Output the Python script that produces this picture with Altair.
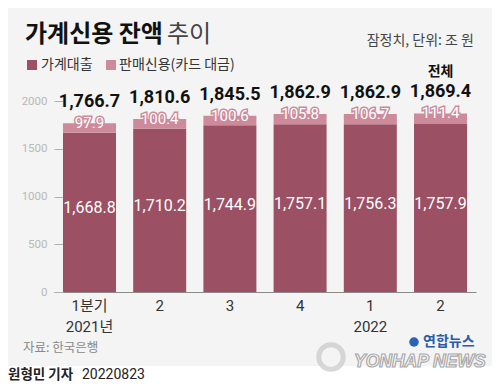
import altair as alt
import pandas as pd

# ---- data ----
categories = ["2021-1", "2021-2", "2021-3", "2021-4", "2022-1", "2022-2"]
quarter_labels = ["1분기", "2", "3", "4", "1", "2"]
year_labels = ["2021년", "", "", "", "2022", ""]
loans = [1668.8, 1710.2, 1744.9, 1757.1, 1756.3, 1757.9]
card = [97.9, 100.4, 100.6, 105.8, 106.7, 111.4]
totals = [1766.7, 1810.6, 1845.5, 1862.9, 1862.9, 1869.4]
y_ticks = [0, 500, 1000, 1500, 2000]

series_names = ["가계대출", "판매신용(카드 대금)"]
title_bold = "가계신용 잔액"
title_light = "추이"
unit_text = "잠정치, 단위: 조 원"
total_text = "전체"
source_text = "자료: 한국은행"
byline_bold = "원형민 기자"
byline_date = "20220823"

df = pd.DataFrame({"cat": categories, "loan": loans, "card": card, "total": totals})

DARK = "#9b5064"
LIGHT = "#cc8a9b"
BG = "#f4f4f4"
KR = "Noto Sans CJK KR"
NUM = "Roboto, 'Noto Sans CJK KR'"

# layout: plot area starts at page (54,101); chart origin at page (8,8)
PLOT_W, PLOT_H = 422, 191
PAD = {"left": 46, "top": 93, "right": 16, "bottom": 91}


def px(x):
    return x - 54


def py(y):
    return y - 101


def js_str(s):
    return "'" + s.replace("'", "\\'") + "'"


label_map = ", ".join(
    js_str(c) + ": [" + ", ".join(js_str(t) for t in ([q, yv] if yv else [q])) + "]"
    for c, q, yv in zip(categories, quarter_labels, year_labels)
)
label_expr = "{" + label_map + "}[datum.value]"

x_enc = alt.X(
    "cat:N",
    sort=categories,
    scale=alt.Scale(paddingInner=0.245, paddingOuter=0.128),
    axis=alt.Axis(
        title=None,
        labelAngle=0,
        ticks=False,
        domainColor="#8a8a8a",
        domainWidth=1,
        labelColor="#333333",
        labelFont=NUM,
        labelFontSize=15,
        labelPadding=6,
        labelLineHeight=21,
        labelExpr=label_expr,
    ),
)

y_scale = alt.Scale(domain=[0, 2000], nice=False)
y_axis = alt.Axis(
    title=None,
    values=y_ticks,
    format="d",
    domain=False,
    grid=False,
    offset=-9,
    tickSize=9,
    tickColor="#b0b0b0",
    labelPadding=7,
    labelColor="#b8b8b8",
    labelFont=NUM,
    labelFontSize=11.5,
)

base = alt.Chart(df)

dark_bars = base.mark_bar(color=DARK).encode(
    x=x_enc, y=alt.Y("loan:Q", scale=y_scale, axis=y_axis)
)
light_bars = base.mark_bar(color=LIGHT).encode(
    x=x_enc, y=alt.Y("loan:Q", scale=y_scale, axis=y_axis), y2="total:Q"
)

total_labels = base.mark_text(
    baseline="alphabetic", dy=-16, fontSize=18, fontWeight="bold",
    font="'Liberation Sans Narrow', Roboto", color="#111111"
).encode(
    x=x_enc,
    y=alt.Y("total:Q", scale=y_scale, axis=y_axis),
    text=alt.Text("total:Q", format=",.1f"),
)

card_halo = base.mark_text(
    baseline="middle", dy=0, fontSize=15, font=NUM, color=LIGHT,
    stroke=LIGHT, strokeWidth=3
).encode(
    x=x_enc,
    y=alt.Y("total:Q", scale=y_scale, axis=y_axis),
    text=alt.Text("card:Q", format=".1f"),
)
card_labels = base.mark_text(
    baseline="middle", dy=0, fontSize=15, font=NUM, color="white"
).encode(
    x=x_enc,
    y=alt.Y("total:Q", scale=y_scale, axis=y_axis),
    text=alt.Text("card:Q", format=".1f"),
)

loan_labels = base.transform_calculate(mid="datum.loan / 2").mark_text(
    baseline="middle", dy=-4, fontSize=16, font=NUM, color="white"
).encode(
    x=x_enc,
    y=alt.Y("mid:Q", scale=y_scale, axis=y_axis),
    text=alt.Text("loan:Q", format=",.1f"),
)

total_word = base.transform_filter(alt.datum.cat == categories[-1]).mark_text(
    text=total_text, baseline="middle", dy=-41, fontSize=14, fontWeight="bold",
    font=KR, color="#111111"
).encode(x=x_enc, y=alt.Y("total:Q", scale=y_scale, axis=y_axis))


def label(text, x, y, size, weight="normal", color="#333333", align="left",
          font=KR, **kw):
    return alt.Chart(alt.Data(values=[{"t": text}])).mark_text(
        align=align, baseline="middle", fontSize=size, fontWeight=weight,
        color=color, font=font, **kw
    ).encode(x=alt.value(px(x)), y=alt.value(py(y)), text="t:N")


def box(x1, x2, y1, y2, color):
    return alt.Chart(alt.Data(values=[{"a": 1}])).mark_rect(color=color).encode(
        x=alt.value(px(x1)), x2=alt.value(px(x2)),
        y=alt.value(py(y1)), y2=alt.value(py(y2)),
    )


footer_bg = box(0, 500, 366, 391, "white")

title1 = label(title_bold, 25, 35, 24, weight="bold", color="#111111")
title2 = label(title_light, 167, 35, 24, color="#444444")
unit = label(unit_text, 474, 41, 14, color="#444444", align="right")

leg_sq1 = box(27, 37, 60, 70, DARK)
leg_t1 = label(series_names[0], 41, 65, 14, color="#333333")
leg_sq2 = box(106, 116, 60, 70, LIGHT)
leg_t2 = label(series_names[1], 119, 65, 14, color="#333333")

source = label(source_text, 23, 348, 12.5, color="#888888")

by1 = label(byline_bold, 8, 375, 13.5, weight="bold", color="#222222")
by2 = label(byline_date, 82, 375, 14, color="#222222", font=NUM)

logo_ring = alt.Chart(alt.Data(values=[{"a": 1}])).mark_point(
    shape="circle", filled=False, color="#c8c8c8", strokeWidth=5, size=600
).encode(x=alt.value(px(331)), y=alt.value(py(357)))
logo_dot = alt.Chart(alt.Data(values=[{"a": 1}])).mark_circle(
    color="#2a62b5", size=90, opacity=1
).encode(x=alt.value(px(414)), y=alt.value(py(342)))
logo_kr = label("연합뉴스", 423, 342, 14, weight="bold", color="#2a5caa")
logo_en = label("YONHAP NEWS", 354, 362, 17.5, weight="bold", color="#ffffff",
                font="'Liberation Sans', Roboto", fontStyle="italic", stroke="#a8a8a8",
                strokeWidth=1.2)

chart = alt.layer(
    footer_bg,
    dark_bars, light_bars,
    total_labels, card_halo, card_labels, loan_labels, total_word,
    title1, title2, unit, leg_sq1, leg_t1, leg_sq2, leg_t2,
    source, logo_ring, logo_dot, logo_en, logo_kr, by1, by2,
).properties(
    width=PLOT_W, height=PLOT_H,
    autosize=alt.AutoSizeParams(type="none"),
    padding=PAD,
    background=BG,
).configure_view(stroke=None)

chart.save("out.html", embed_options={"renderer": "svg", "actions": False})
